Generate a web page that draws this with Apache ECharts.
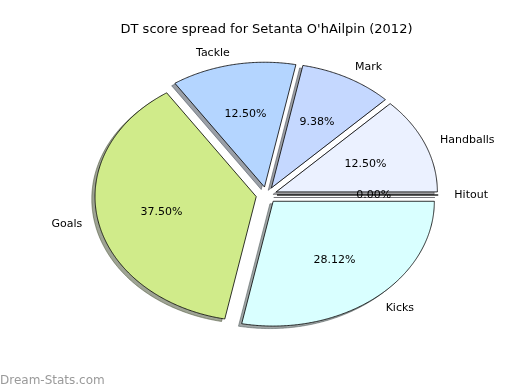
<!DOCTYPE html>
<html>
<head>
<meta charset="utf-8">
<script src="https://cdn.jsdelivr.net/npm/echarts@6/dist/echarts.min.js"></script>
<style>
html,body{margin:0;padding:0;background:#fff;}
#chart{width:520px;height:390px;}
</style>
</head>
<body>
<div id="chart"></div>
<script>
// ---- data ----
var categories = ['Handballs', 'Mark', 'Tackle', 'Goals', 'Kicks', 'Hitout'];
var values = [4, 3, 4, 12, 9, 0];
var pctLabels = ['12.50%', '9.38%', '12.50%', '37.50%', '28.12%', '0.00%'];
var colors = ['#ebf1ff', '#c5d8ff', '#b4d5ff', '#d0eb8a', '#d9ffff', '#e8e8ff'];
var explodes = [0.065, 0.065, 0.065, 0.065, 0.065, 0.065];
var titleText = "DT score spread for Setanta O'hAilpin (2012)";
var watermark = 'Dream-Stats.com';

var total = values.reduce(function (a, b) { return a + b; }, 0);
var startAngles = [], endAngles = [];
(function () {
  var acc = 0;
  for (var i = 0; i < values.length; i++) {
    startAngles.push(acc / total * 360);
    acc += values[i];
    endAngles.push(acc / total * 360);
  }
})();

var FONT = 'DejaVu Sans';
var SH_X = -0.02, SH_Y = -0.02;

function wedgePoints(api, i, dx, dy) {
  var a0 = startAngles[i] * Math.PI / 180, a1 = endAngles[i] * Math.PI / 180;
  var mid = (a0 + a1) / 2;
  var e = explodes[i];
  var cx = e * Math.cos(mid) + dx, cy = e * Math.sin(mid) + dy;
  var pts = [api.coord([cx, cy])];
  var n = Math.max(1, Math.ceil((a1 - a0) / (Math.PI / 360)));
  for (var k = 0; k <= n; k++) {
    var a = a0 + (a1 - a0) * k / n;
    pts.push(api.coord([cx + Math.cos(a), cy + Math.sin(a)]));
  }
  return pts;
}

function hexToShadow(hex) {
  var r = parseInt(hex.substr(1, 2), 16), g = parseInt(hex.substr(3, 2), 16), b = parseInt(hex.substr(5, 2), 16);
  return 'rgba(' + Math.round(r * 0.3) + ',' + Math.round(g * 0.3) + ',' + Math.round(b * 0.3) + ',0.5)';
}

var idxData = categories.map(function (c, i) { return [i]; });

var chart = echarts.init(document.getElementById('chart'), null, { renderer: 'canvas' });
chart.setOption({
  animation: false,
  backgroundColor: '#ffffff',
  graphic: [{
    type: 'text',
    x: 266.5,
    y: 29.5,
    style: { text: titleText, fontFamily: FONT, fontSize: 13, fill: '#000', align: 'center', verticalAlign: 'middle' }
  }, {
    type: 'text',
    x: 0,
    y: 380.5,
    style: { text: watermark, fontFamily: FONT, fontSize: 12, fill: '#9a9a9a', align: 'left', verticalAlign: 'middle' }
  }],
  grid: { left: 65, right: 52, top: 39, bottom: 39 },
  xAxis: { type: 'value', min: -1.25, max: 1.25, show: false },
  yAxis: { type: 'value', min: -1.25, max: 1.25, show: false },
  series: [
    {
      type: 'custom',
      z: 1,
      silent: true,
      data: idxData,
      encode: { x: -1, y: -1 },
      renderItem: function (params, api) {
        var i = api.value(0);
        return {
          type: 'polygon',
          shape: { points: wedgePoints(api, i, SH_X, SH_Y) },
          style: { fill: hexToShadow(colors[i]), stroke: hexToShadow(colors[i]), lineWidth: 1 }
        };
      }
    },
    {
      type: 'custom',
      z: 2,
      silent: true,
      data: idxData,
      encode: { x: -1, y: -1 },
      renderItem: function (params, api) {
        var i = api.value(0);
        var a0 = startAngles[i] * Math.PI / 180, a1 = endAngles[i] * Math.PI / 180;
        var mid = (a0 + a1) / 2;
        var e = explodes[i];
        var cx = e * Math.cos(mid), cy = e * Math.sin(mid);
        var lx = cx + 1.1 * Math.cos(mid), ly = cy + 1.1 * Math.sin(mid);
        var px = cx + 0.6 * Math.cos(mid), py = cy + 0.6 * Math.sin(mid);
        var lp = api.coord([lx, ly]);
        var pp = api.coord([px, py]);
        return {
          type: 'group',
          children: [
            {
              type: 'polygon',
              shape: { points: wedgePoints(api, i, 0, 0) },
              style: { fill: colors[i], stroke: '#000', lineWidth: 0.8 }
            },
            {
              type: 'text',
              x: lp[0], y: lp[1] + 0.5,
              style: {
                text: categories[i], fontFamily: FONT, fontSize: 11, fill: '#000',
                align: lx > 0 ? 'left' : 'right', verticalAlign: 'middle'
              }
            },
            {
              type: 'text',
              x: pp[0], y: pp[1] + 0.5,
              style: {
                text: pctLabels[i], fontFamily: FONT, fontSize: 11, fill: '#000',
                align: 'center', verticalAlign: 'middle'
              }
            }
          ]
        };
      }
    }
  ]
});
</script>
</body>
</html>
